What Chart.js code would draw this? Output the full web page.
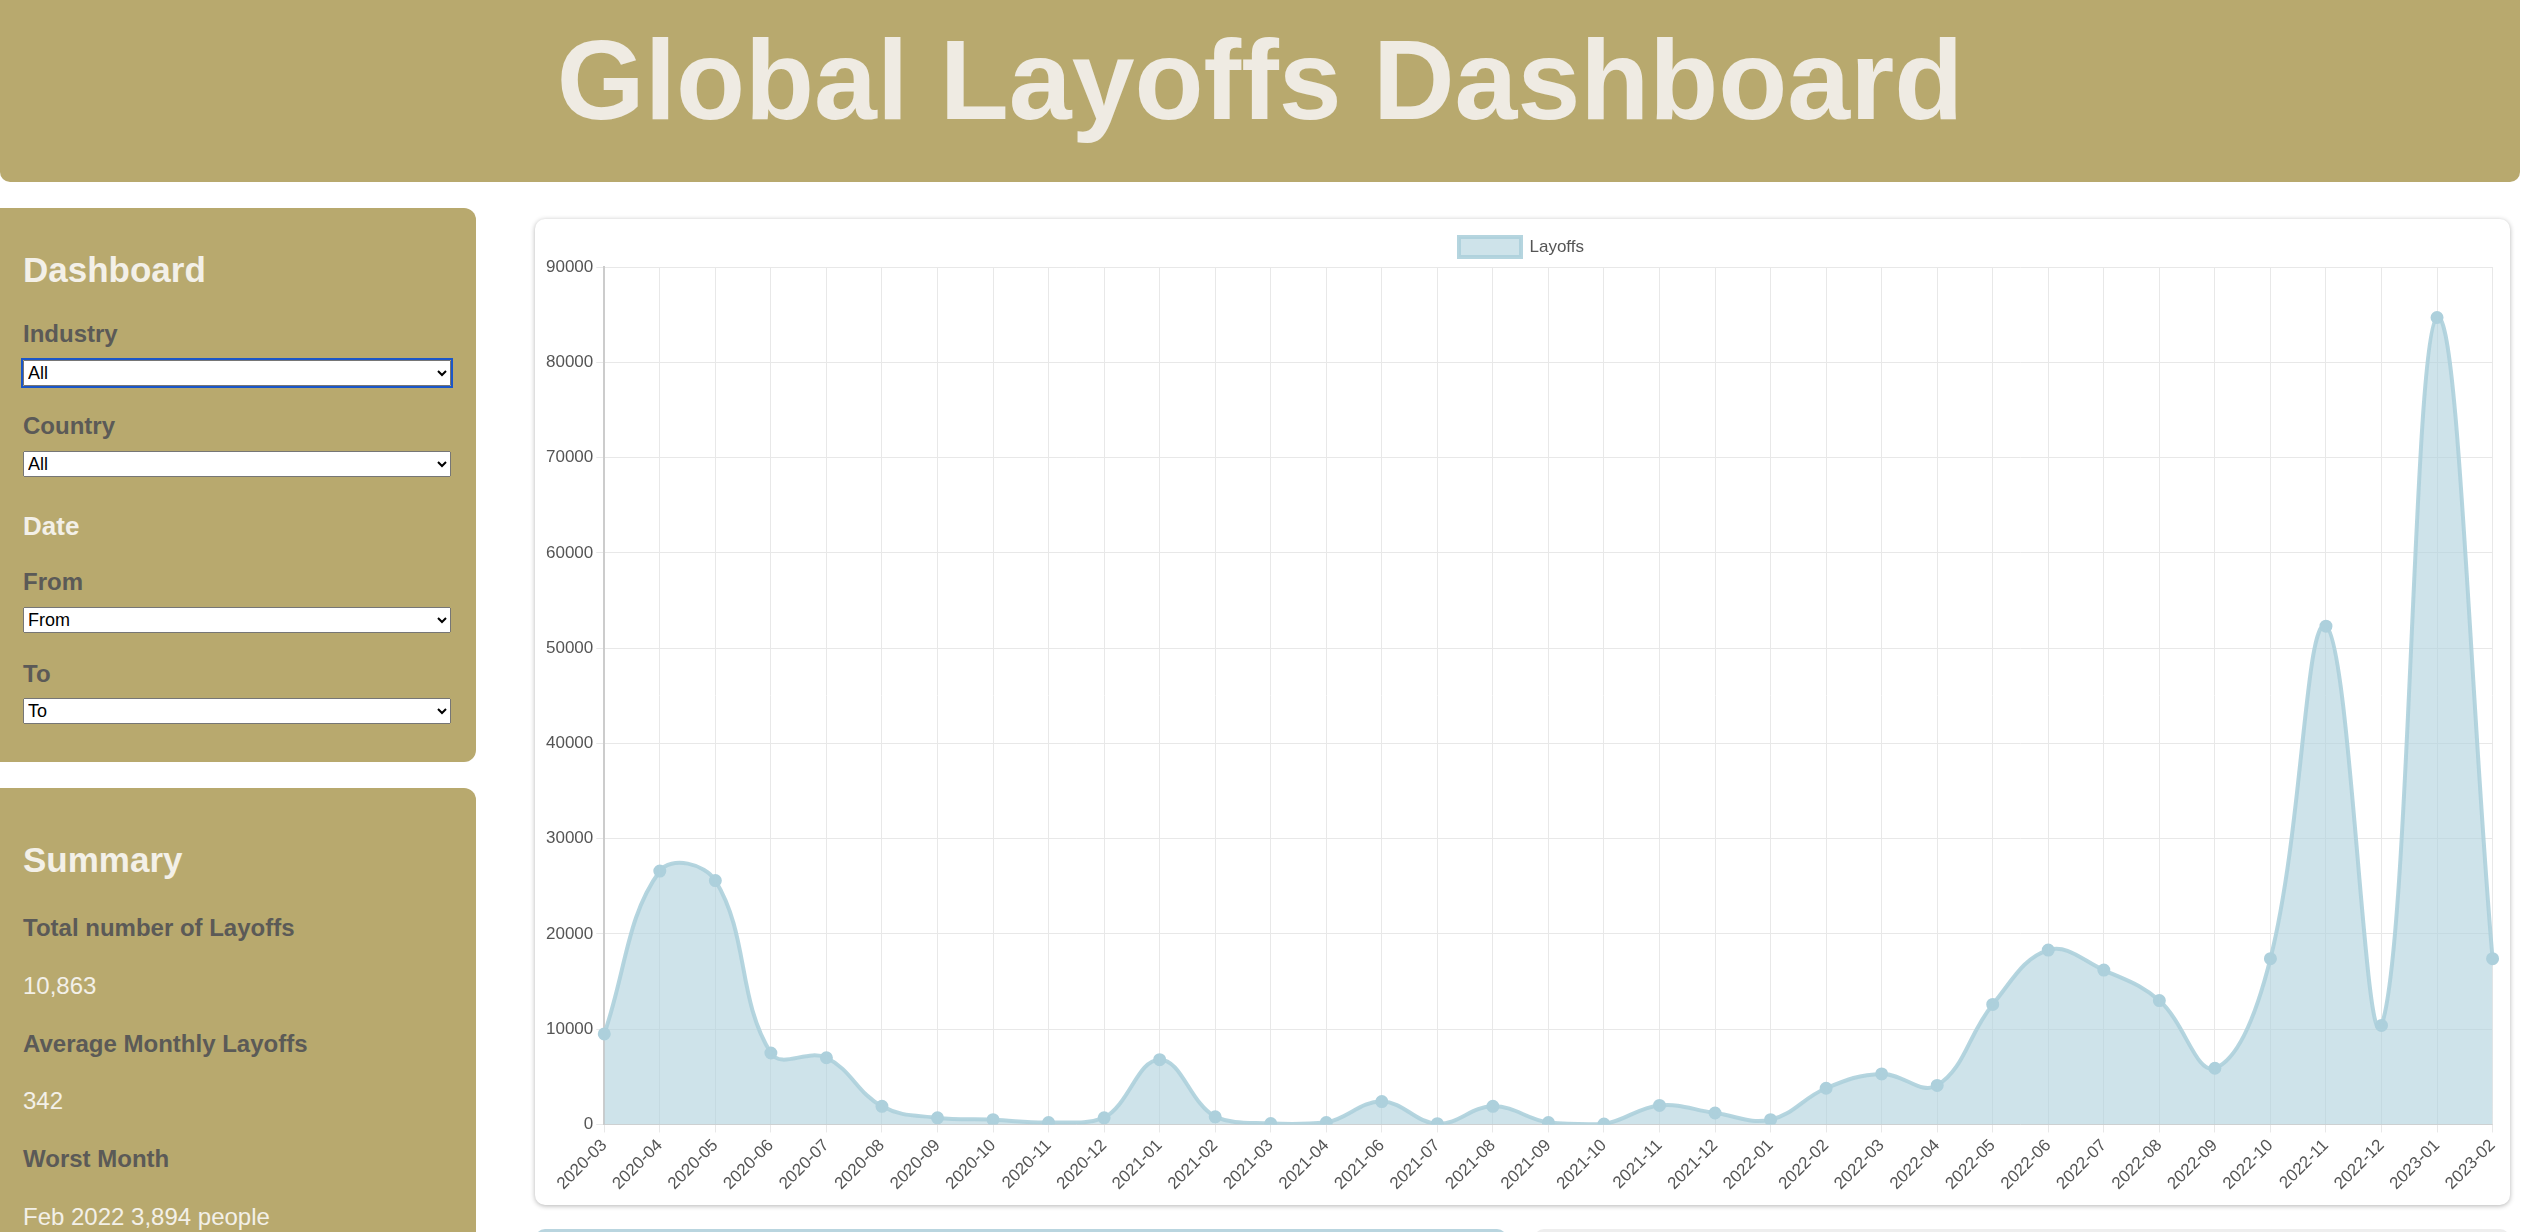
<!DOCTYPE html>
<html><head><meta charset="utf-8">
<script src="https://cdn.jsdelivr.net/npm/chart.js@4"></script>
<style>
body{margin:0;background:#fff;font-family:"Liberation Sans",Arial,sans-serif;width:2526px;height:1232px;overflow:hidden;position:relative}
#hdr{position:absolute;left:0;top:0;width:2520px;height:182px;background:#b8a96e;border-radius:0 0 10px 10px;text-align:center}
#hdr h1{margin:0;line-height:160px;font-size:113px;color:#efebe3;font-weight:bold}
.panel{position:absolute;left:0;width:476px;background:#b8a96e;border-radius:0 12px 12px 0;box-sizing:border-box;padding:0 23px}
.panel h2{color:#f3f0e8;font-size:35px;margin:0;font-weight:bold}
.lab{color:#5b5a57;font-size:24px;font-weight:bold;position:absolute;left:23px}
.sel{position:absolute;left:23px;width:428px;height:26px;font-size:18px;box-sizing:border-box}
.val{color:#f3f0e8;font-size:24px;position:absolute;left:23px}
#card{position:absolute;left:535px;top:219px;width:1975px;height:986px;background:#fff;border-radius:10px;box-shadow:0 1px 5px rgba(0,0,0,0.3)}
.bot{position:absolute;top:1229px;height:20px;border-radius:10px 10px 0 0;background:#b9d5df}
</style></head><body>
<div id="hdr"><h1>Global Layoffs Dashboard</h1></div>
<div class="panel" style="top:208px;height:554px">
<h2 style="position:absolute;top:42px;left:23px">Dashboard</h2>
<div class="lab" style="top:112px">Industry</div>
<select class="sel" style="top:152px;outline:2px solid #1a56c9"><option>All</option></select>
<div class="lab" style="top:204px">Country</div>
<select class="sel" style="top:243px"><option>All</option></select>
<div class="lab" style="top:303px;color:#f3f0e8;font-size:26px">Date</div>
<div class="lab" style="top:360px">From</div>
<select class="sel" style="top:399px"><option>From</option></select>
<div class="lab" style="top:452px">To</div>
<select class="sel" style="top:490px"><option>To</option></select>
</div>
<div class="panel" style="top:788px;height:460px">
<h2 style="position:absolute;top:52px;left:23px">Summary</h2>
<div class="lab" style="top:126px">Total number of Layoffs</div>
<div class="val" style="top:184px">10,863</div>
<div class="lab" style="top:242px">Average Monthly Layoffs</div>
<div class="val" style="top:299px">342</div>
<div class="lab" style="top:357px">Worst Month</div>
<div class="val" style="top:415px">Feb 2022 3,894 people</div>
</div>
<div id="card"><canvas id="c" width="1975" height="986" style="width:1975px;height:986px"></canvas></div>
<div class="bot" style="left:535px;width:972px"></div>
<div class="bot" style="left:1534px;width:976px;background:#eee"></div>
<script>
const labels=["2020-03","2020-04","2020-05","2020-06","2020-07","2020-08","2020-09","2020-10","2020-11","2020-12","2021-01","2021-02","2021-03","2021-04","2021-06","2021-07","2021-08","2021-09","2021-10","2021-11","2021-12","2022-01","2022-02","2022-03","2022-04","2022-05","2022-06","2022-07","2022-08","2022-09","2022-10","2022-11","2022-12","2023-01","2023-02"];
const layoffs=[9500,26600,25600,7500,7000,1900,700,500,200,700,6800,800,100,200,2400,80,1900,200,50,2000,1200,500,3800,5300,4100,12600,18300,16200,13000,5900,17400,52300,10400,84700,17400];
const yTicks={min:0,max:90000,step:10000};
Chart.defaults.font.family='"Liberation Sans",Arial,sans-serif';
Chart.defaults.font.size=17;
Chart.defaults.color='#555';
new Chart(document.getElementById('c'),{type:'line',
data:{labels,datasets:[{label:'Layoffs',data:layoffs,fill:true,tension:0.4,
backgroundColor:'rgba(173,208,220,0.6)',borderColor:'rgba(173,208,220,0.9)',borderWidth:4,
pointRadius:4.5,pointBackgroundColor:'rgba(173,208,220,1)',pointBorderColor:'rgba(173,208,220,1)'}]},
options:{responsive:false,animation:false,devicePixelRatio:1,
layout:{padding:{left:8,right:10,top:8,bottom:8}},
plugins:{legend:{labels:{boxWidth:62,boxHeight:20,font:{size:17}}}},
scales:{x:{grid:{color:'#e8e8e8'},ticks:{maxRotation:45,minRotation:45,autoSkip:false}},
y:{min:yTicks.min,max:yTicks.max,ticks:{stepSize:yTicks.step,callback:v=>String(v)},grid:{color:'#e8e8e8'},border:{color:'#ccc',width:2}}}}});
</script>
</body></html>
